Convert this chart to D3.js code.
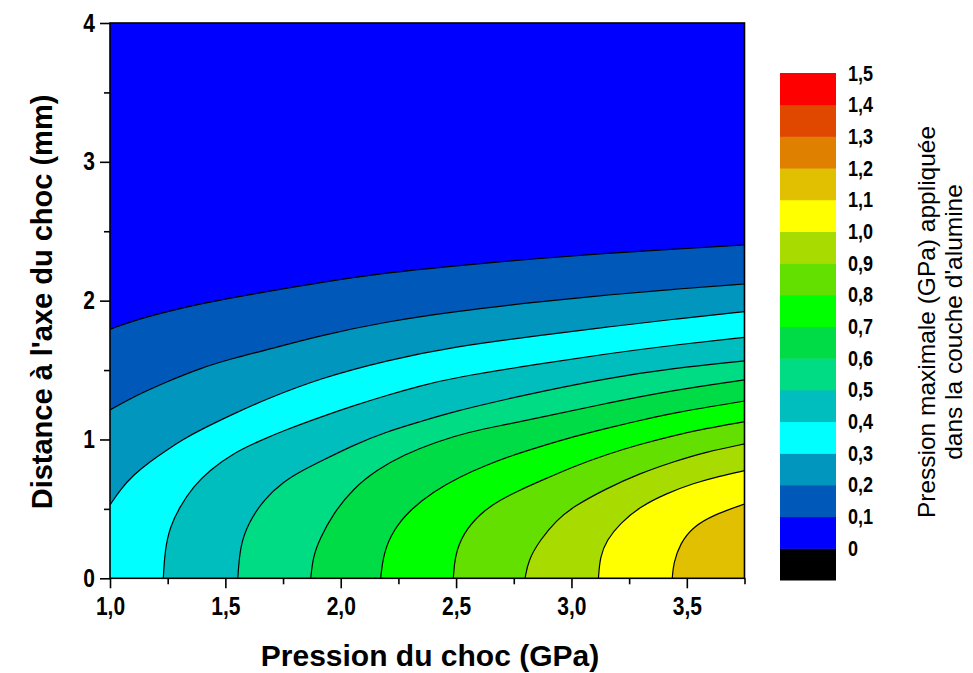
<!DOCTYPE html>
<html>
<head>
<meta charset="utf-8">
<script src="https://cdn.jsdelivr.net/npm/d3@7"></script>
<style>
  body { margin: 0; background: #fff; }
  text { font-family: "Liberation Sans", Arial, sans-serif; fill: #000; }
</style>
</head>
<body>
<div id="chart"></div>
<script>
// contour levels (GPa) and the lines: [pression du choc, distance]
var levels = [0.1, 0.2, 0.3, 0.4, 0.5, 0.6, 0.7, 0.8, 0.9, 1.0, 1.1];

var iso01 = [[1.00,1.794],[1.101,1.856],[1.246,1.921],[1.390,1.976],[1.534,2.022],[1.679,2.065],[1.910,2.131],[2.199,2.202],[2.488,2.250],[2.864,2.305],[3.153,2.342],[3.442,2.370],[3.75,2.401]];
var iso02 = [[1.00,1.213],[1.101,1.308],[1.246,1.416],[1.390,1.513],[1.534,1.585],[1.679,1.645],[1.910,1.749],[2.199,1.849],[2.488,1.921],[2.864,1.993],[3.153,2.041],[3.442,2.082],[3.75,2.120]];
var iso03 = [[1.00,0.528],[1.043,0.636],[1.101,0.744],[1.173,0.840],[1.246,0.924],[1.318,1.001],[1.390,1.068],[1.534,1.184],[1.679,1.292],[1.910,1.441],[2.199,1.570],[2.488,1.668],[2.864,1.750],[3.153,1.810],[3.442,1.866],[3.75,1.921]];
var iso04 = [[1.231,0],[1.238,0.204],[1.260,0.372],[1.303,0.516],[1.361,0.660],[1.433,0.780],[1.534,0.901],[1.650,0.992],[1.766,1.072],[1.910,1.160],[2.055,1.243],[2.199,1.318],[2.344,1.386],[2.488,1.445],[2.864,1.545],[3.153,1.617],[3.442,1.680],[3.75,1.736]];
var iso05 = [[1.554,0],[1.563,0.228],[1.599,0.396],[1.665,0.564],[1.751,0.696],[1.838,0.780],[1.910,0.840],[2.055,0.960],[2.199,1.056],[2.344,1.128],[2.488,1.200],[2.705,1.285],[2.864,1.344],[3.153,1.441],[3.442,1.513],[3.75,1.566]];
var iso06 = [[1.870,0],[1.880,0.156],[1.910,0.288],[1.968,0.468],[2.055,0.648],[2.156,0.780],[2.271,0.888],[2.416,0.984],[2.560,1.056],[2.705,1.104],[2.864,1.159],[3.153,1.261],[3.442,1.355],[3.75,1.429]];
var iso07 = [[2.173,0],[2.185,0.180],[2.228,0.348],[2.300,0.492],[2.401,0.624],[2.517,0.732],[2.633,0.816],[2.748,0.888],[2.864,0.948],[3.008,1.020],[3.153,1.081],[3.297,1.137],[3.442,1.192],[3.75,1.277]];
var iso08 = [[2.488,0],[2.495,0.168],[2.531,0.324],[2.604,0.468],[2.690,0.564],[2.777,0.636],[2.864,0.700],[3.008,0.805],[3.153,0.893],[3.297,0.965],[3.442,1.028],[3.586,1.080],[3.75,1.128]];
var iso09 = [[2.799,0],[2.813,0.132],[2.864,0.276],[2.936,0.420],[3.008,0.516],[3.153,0.648],[3.297,0.756],[3.442,0.840],[3.586,0.912],[3.75,0.968]];
var iso10 = [[3.117,0],[3.124,0.156],[3.153,0.276],[3.211,0.396],[3.297,0.516],[3.413,0.612],[3.528,0.684],[3.644,0.737],[3.75,0.775]];
var iso11 = [[3.437,0],[3.442,0.108],[3.471,0.252],[3.528,0.372],[3.615,0.456],[3.75,0.535]];

var xTicks = [1.0, 1.5, 2.0, 2.5, 3.0, 3.5];
var xMinor = [1.25, 1.75, 2.25, 2.75, 3.25, 3.75];
var yTicks = [0, 1, 2, 3, 4];
var yMinor = [0.5, 1.5, 2.5, 3.5];
var legendLevels = [0, 0.1, 0.2, 0.3, 0.4, 0.5, 0.6, 0.7, 0.8, 0.9, 1.0, 1.1, 1.2, 1.3, 1.4, 1.5];
var legendLabels = ["0", "0,1", "0,2", "0,3", "0,4", "0,5", "0,6", "0,7", "0,8", "0,9", "1,0", "1,1", "1,2", "1,3", "1,4", "1,5"];

// colour of each band, from below 0 up to 1,4-1,5
var bandColors = ["#000000", "#0000ff", "#0058b8", "#0096be", "#00ffff", "#00bebe", "#00dc84",
                  "#00dc46", "#00ff00", "#64e000", "#a8dc00", "#ffff00", "#e0c000", "#e08000", "#e04800", "#ff0000"];

var isolines = [iso01, iso02, iso03, iso04, iso05, iso06, iso07, iso08, iso09, iso10, iso11];

var W = 973, H = 673;
var svg = d3.select("#chart").append("svg")
    .attr("width", W)
    .attr("height", H);

var x = d3.scaleLinear().domain([1, 3.75]).range([110, 744.5]);
var y = d3.scaleLinear().domain([0, 4]).range([578.3, 23]);

var comma = function (v) { return d3.format(".1f")(v).replace(".", ","); };

svg.append("clipPath").attr("id", "plotclip")
  .append("rect")
    .attr("x", x(1)).attr("y", y(4))
    .attr("width", x(3.75) - x(1)).attr("height", y(0) - y(4));

var plot = svg.append("g").attr("clip-path", "url(#plotclip)");

// band 0 - 0,1 fills everything first
plot.append("rect")
    .attr("x", x(1)).attr("y", y(4))
    .attr("width", x(3.75) - x(1)).attr("height", y(0) - y(4))
    .attr("fill", bandColors[1]);

var iso = d3.line()
    .x(function (d) { return x(d[0]); })
    .y(function (d) { return y(d[1]); })
    .curve(d3.curveBasis);

// region above each level: the isoline closed along the right and bottom edges
isolines.forEach(function (pts, i) {
    var first = pts[0];
    var d = iso(pts) + "L" + x(3.75) + "," + y(0) + "L" + x(first[0]) + "," + y(0) + "Z";
    plot.append("path")
        .attr("d", d)
        .attr("fill", bandColors[i + 2]);
});

isolines.forEach(function (pts) {
    plot.append("path")
        .attr("d", iso(pts))
        .attr("fill", "none")
        .attr("stroke", "#000")
        .attr("stroke-width", 1.2);
});

// frame
svg.append("rect")
    .attr("x", x(1)).attr("y", y(4))
    .attr("width", x(3.75) - x(1)).attr("height", y(0) - y(4))
    .attr("fill", "none")
    .attr("stroke", "#000")
    .attr("stroke-width", 1.6);

//X AXIS
var gx = svg.append("g")
    .attr("transform", "translate(0," + y(0) + ")")
    .call(d3.axisBottom(x).tickValues(xTicks).tickSize(10).tickSizeOuter(0).tickPadding(9).tickFormat(comma));
svg.append("g")
    .attr("transform", "translate(0," + y(0) + ")")
    .call(d3.axisBottom(x).tickValues(xMinor).tickSize(6).tickSizeOuter(0).tickFormat(""));

//Y AXIS
var gy = svg.append("g")
    .attr("transform", "translate(" + x(1) + ",0)")
    .call(d3.axisLeft(y).tickValues(yTicks).tickSize(10).tickSizeOuter(0).tickPadding(8).tickFormat(d3.format("d")));
svg.append("g")
    .attr("transform", "translate(" + x(1) + ",0)")
    .call(d3.axisLeft(y).tickValues(yMinor).tickSize(6).tickSizeOuter(0).tickFormat(""));

svg.selectAll(".domain").remove();
svg.selectAll(".tick line").attr("stroke", "#000").attr("stroke-width", 1.6);
gx.selectAll(".tick text")
    .style("font-size", "25px").style("font-weight", "bold")
    .attr("transform", "scale(0.84,1)");
gy.selectAll(".tick text")
    .style("font-size", "25px").style("font-weight", "bold")
    .attr("transform", "scale(0.84,1)");

svg.append("text")
    .attr("x", 430).attr("y", 666)
    .attr("text-anchor", "middle")
    .style("font-size", "30px").style("font-weight", "bold")
    .text("Pression du choc (GPa)");

svg.append("text")
    .attr("transform", "translate(42,302) rotate(-90)")
    .attr("text-anchor", "middle")
    .attr("dy", "0.35em")
    .style("font-size", "29px").style("font-weight", "bold")
    .text("Distance à l'axe du choc (mm)");

//LEGEND
var ly = d3.scaleLinear().domain([-0.1, 1.5]).range([580, 73]);
var bands = [-0.1].concat(legendLevels.slice(0, 15));
svg.append("g").selectAll("rect")
    .data(bands)
    .enter().append("rect")
    .attr("x", 780)
    .attr("width", 56)
    .attr("y", function (d) { return ly(d + 0.1); })
    .attr("height", function (d) { return ly(d) - ly(d + 0.1) + 0.5; })
    .attr("fill", function (d, i) { return bandColors[i]; });

var gl = svg.append("g")
    .attr("transform", "translate(848,0)")
    .call(d3.axisRight(ly).tickValues(legendLevels).tickSize(0).tickPadding(0)
        .tickFormat(function (d, i) { return legendLabels[i]; }));
gl.select(".domain").remove();
gl.selectAll(".tick text")
    .style("font-size", "22px").style("font-weight", "bold")
    .attr("transform", "scale(0.82,1)");

var lt = svg.append("text")
    .attr("transform", "translate(946,322) rotate(-90)")
    .attr("text-anchor", "middle")
    .style("font-size", "24.5px");
lt.append("tspan").attr("x", 0).attr("dy", "-0.45em").text("Pression maximale (GPa) appliquée");
lt.append("tspan").attr("x", 0).attr("dy", "1.1em").text("dans la couche d'alumine");
</script>
</body>
</html>
